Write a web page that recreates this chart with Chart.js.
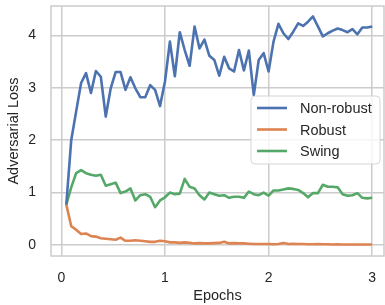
<!DOCTYPE html>
<html>
<head>
<meta charset="utf-8">
<script src="https://cdn.jsdelivr.net/npm/chart.js@4.4.0/dist/chart.umd.min.js"></script>
<style>
  html, body { margin: 0; padding: 0; background: #fff; }
  #wrap { width: 385px; height: 305px; }
</style>
</head>
<body>
<div id="wrap"><canvas id="lossChart" width="385" height="305"></canvas></div>
<script>
    // 21 evaluations per epoch, 3 epochs
    const stepsPerEpoch = 21;
    const nonRobust = [0.77, 2.0, 2.55, 3.09, 3.28, 2.9, 3.32, 3.21, 2.45, 2.99,
      3.30, 3.30, 2.96, 3.2, 2.99, 2.82, 2.82, 3.05, 2.96, 2.65,
      3.12, 3.88, 3.22, 4.06, 3.72, 3.42, 4.17, 3.75, 3.92, 3.61,
      3.53, 3.23, 3.59, 3.37, 3.31, 3.72, 3.33, 3.71, 2.86, 3.53,
      3.66, 3.31, 3.88, 4.22, 4.04, 3.93, 4.07, 4.23, 4.18, 4.26,
      4.36, 4.17, 3.98, 4.04, 4.09, 4.13, 4.10, 4.06, 4.12, 4.02,
      4.15, 4.15, 4.17];
    const robust = [0.77, 0.36, 0.29, 0.21, 0.22, 0.17, 0.16, 0.13, 0.12, 0.11,
      0.10, 0.14, 0.08, 0.08, 0.09, 0.08, 0.07, 0.06, 0.06, 0.08,
      0.07, 0.05, 0.05, 0.04, 0.05, 0.04, 0.03, 0.035, 0.03, 0.03,
      0.035, 0.04, 0.06, 0.03, 0.035, 0.03, 0.03, 0.025, 0.02, 0.02,
      0.02, 0.02, 0.015, 0.02, 0.04, 0.02, 0.025, 0.02, 0.02, 0.015,
      0.015, 0.02, 0.015, 0.015, 0.01, 0.015, 0.01, 0.01, 0.01, 0.01,
      0.01, 0.01, 0.01];
    const swing = [0.77, 1.1, 1.37, 1.43, 1.37, 1.34, 1.32, 1.34, 1.13, 1.16,
      1.19, 0.99, 1.02, 1.08, 0.85, 0.95, 0.97, 0.92, 0.72, 0.85,
      0.91, 1.0, 0.97, 0.98, 1.26, 1.11, 1.08, 0.95, 0.87, 1.0,
      0.97, 0.94, 0.95, 0.90, 0.92, 0.92, 0.90, 1.02, 0.97, 0.95,
      1.0, 0.94, 1.04, 1.04, 1.06, 1.08, 1.07, 1.05, 0.99, 0.91,
      0.99, 0.99, 1.15, 1.11, 1.11, 1.10, 0.97, 0.94, 0.95, 0.99,
      0.90, 0.89, 0.90];
    const epochs = nonRobust.map((_, i) => (i + 1) / stepsPerEpoch);
    const xTicks = [0, 1, 2, 3];
    const yTicks = [0, 1, 2, 3, 4];

    const gridColor = '#cccccc';
    const textColor = '#262626';
    const fontFamily = '"Liberation Sans", Arial, sans-serif';

    function series(label, values, color) {
      return {
        label,
        data: values.map((v, i) => ({ x: epochs[i], y: v })),
        borderColor: color,
        backgroundColor: color,
        borderWidth: 2.6,
        pointRadius: 0,
        tension: 0,
        borderJoinStyle: 'round',
        borderCapStyle: 'butt'
      };
    }

    // keep the plot box fixed, no extra room for edge labels
    function fixBox(size) {
      return s => {
        if (s.isHorizontal()) s.height = size; else s.width = size;
        s.paddingTop = 0; s.paddingBottom = 0;
        s.paddingLeft = 0; s.paddingRight = 0;
      };
    }

    // spines on all four sides
    const frame = {
      id: 'frame',
      beforeDatasetsDraw(chart) {
        const { ctx, chartArea: a } = chart;
        ctx.save();
        ctx.strokeStyle = gridColor;
        ctx.lineWidth = 1.5;
        ctx.strokeRect(a.left, a.top, a.right - a.left, a.bottom - a.top);
        ctx.restore();
      }
    };

    // matplotlib-like legend inside the axes
    const insideLegend = {
      id: 'insideLegend',
      afterDatasetsDraw(chart) {
        const { ctx, chartArea: a } = chart;
        const boxW = 129, boxH = 68, rowH = 21.5;
        const x0 = a.right - 4 - boxW, y0 = a.top + 90;
        ctx.save();
        ctx.beginPath();
        ctx.roundRect(x0, y0, boxW, boxH, 4);
        ctx.fillStyle = 'rgba(255,255,255,0.8)';
        ctx.fill();
        ctx.strokeStyle = '#d6d6d6';
        ctx.lineWidth = 1;
        ctx.stroke();
        ctx.font = '14.5px ' + fontFamily;
        ctx.textBaseline = 'middle';
        ctx.fillStyle = textColor;
        chart.data.datasets.forEach((ds, i) => {
          const y = y0 + 12 + i * rowH;
          ctx.beginPath();
          ctx.strokeStyle = ds.borderColor;
          ctx.lineWidth = 2.6;
          ctx.moveTo(x0 + 6, y);
          ctx.lineTo(x0 + 36, y);
          ctx.stroke();
          ctx.fillText(ds.label, x0 + 49, y + 1);
        });
        ctx.restore();
      }
    };

    const ctx = document.getElementById('lossChart').getContext('2d');
    const chart = new Chart(ctx, {
      type: 'line',
      data: {
        datasets: [
          series('Non-robust', nonRobust, '#4c72b0'),
          series('Robust', robust, '#dd8452'),
          series('Swing', swing, '#55a868')
        ]
      },
      options: {
        responsive: false,
        animation: false,
        events: [],
        layout: { padding: { top: 6, right: 1, left: 0, bottom: 0 } },
        scales: {
          x: {
            type: 'linear',
            min: -0.1,
            max: 3.114,
            afterFit: fixBox(49),
            afterBuildTicks: s => { s.ticks = xTicks.map(v => ({ value: v })); },
            grid: { color: gridColor, lineWidth: 1.5, drawTicks: false },
            border: { display: false },
            ticks: { color: textColor, padding: 14, font: { family: fontFamily, size: 14 } },
            title: {
              display: true, text: 'Epochs', color: textColor,
              font: { family: fontFamily, size: 14.5 }, padding: { top: 0, bottom: 0 }
            }
          },
          y: {
            min: -0.21,
            max: 4.56,
            afterFit: fixBox(51),
            afterBuildTicks: s => { s.ticks = yTicks.map(v => ({ value: v })); },
            grid: { color: gridColor, lineWidth: 1.5, drawTicks: false },
            border: { display: false },
            ticks: { color: textColor, padding: 15, font: { family: fontFamily, size: 14 } },
            title: {
              display: true, text: 'Adversarial Loss', color: textColor,
              font: { family: fontFamily, size: 14.5 }, padding: { top: 5, bottom: 0 }
            }
          }
        },
        plugins: {
          legend: { display: false },
          tooltip: { enabled: false }
        }
      },
      plugins: [frame, insideLegend]
    });
</script>
</body>
</html>
